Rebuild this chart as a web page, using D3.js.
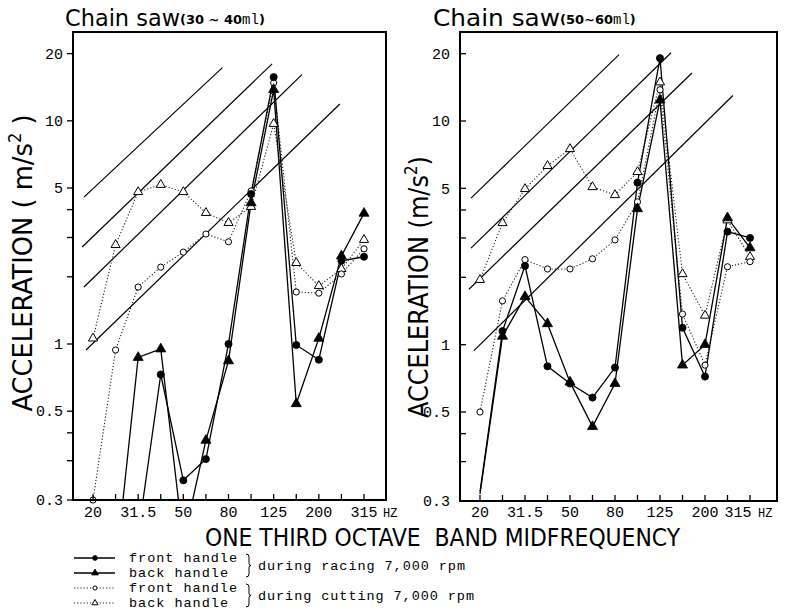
<!DOCTYPE html>
<html>
<head>
<meta charset="utf-8">
<script src="https://cdn.jsdelivr.net/npm/d3@7"></script>
<style>
  html, body { margin: 0; padding: 0; background: #fff; }
  svg { display: block; }
</style>
</head>
<body>
<script>
// One-third octave band centre frequencies (Hz)
const bands = ["20", "25", "31.5", "40", "50", "63", "80", "100", "125", "160", "200", "250", "315"];
const bandTickLabels = ["20", "31.5", "50", "80", "125", "200", "315"];

// Acceleration axis ticks (m/s²)
const yMajorTicks = [0.2, 0.5, 1, 5, 10, 20];
const yMajorLabels = ["0.3", "0.5", "1", "5", "10", "20"];
const yMinorTicks = [0.3, 0.4, 2, 3, 4];

// Chain saw 30~40 ml
const racingFrontSmall  = [null, null, 0.14, 0.73, 0.245, 0.305, 1.0, 4.7, 15.7, 0.99, 0.85, 2.36, 2.46];
const racingBackSmall   = [null, 0.098, 0.87, 0.95, 0.13, 0.37, 0.84, 4.29, 13.8, 0.54, 1.06, 2.48, 3.85];
const cuttingFrontSmall = [0.2, 0.94, 1.8, 2.21, 2.58, 3.11, 2.87, 4.85, 14.8, 1.71, 1.69, 2.06, 2.67];
const cuttingBackSmall  = [1.06, 2.78, 4.8, 5.17, 4.8, 3.87, 3.49, 4.12, 9.7, 2.31, 1.82, 2.17, 2.93];

// Chain saw 50~60 ml (racing traces start unmarked at the 20 Hz band)
const racingFrontLarge  = [0.22, 1.15, 2.25, 0.8, 0.67, 0.58, 0.79, 5.3, 19.1, 1.19, 0.72, 3.2, 3.0];
const racingBackLarge   = [0.215, 1.09, 1.64, 1.24, 0.68, 0.43, 0.67, 4.05, 12.4, 0.81, 1.0, 3.69, 2.71];
const cuttingFrontLarge = [0.5, 1.57, 2.4, 2.18, 2.18, 2.42, 2.94, 4.35, 13.8, 1.37, 0.81, 2.23, 2.35];
const cuttingBackLarge  = [1.95, 3.5, 4.97, 6.3, 7.5, 5.07, 4.67, 5.92, 14.9, 2.07, 1.35, 3.6, 2.47];

// Constant-velocity guide lines: [band index, acceleration] at each end
const guideLinesSmall = [
  [[-0.4, 4.55], [5.73, 17.3]],
  [[-0.48, 2.72], [7.93, 18.0]],
  [[-0.4, 1.8], [9.25, 16.1]],
  [[-0.31, 0.94], [10.93, 11.9]]
];
const guideLinesLarge = [
  [[-0.4, 4.52], [6.18, 19.8]],
  [[-0.4, 2.70], [8.49, 20.2]],
  [[-0.49, 1.77], [9.42, 16.4]],
  [[-0.27, 0.94], [11.24, 13.0]]
];

const legendRows = [
  { label: "front handle", kind: "racingFront" },
  { label: "back handle", kind: "racingBack" },
  { label: "front handle", kind: "cuttingFront" },
  { label: "back handle", kind: "cuttingBack" }
];
const legendGroups = ["during racing 7,000 rpm", "during cutting 7,000 rpm"];

// ---------------------------------------------------------------------------
const W = 790, H = 611;
const svg = d3.select("body").append("svg").attr("width", W).attr("height", H);
svg.append("rect").attr("width", W).attr("height", H).attr("fill", "#fff");

const mono = "'Liberation Mono', 'DejaVu Sans Mono', monospace";
const sans = "'Liberation Sans Narrow', 'DejaVu Sans Condensed', 'Liberation Sans', sans-serif";
const round = "'DejaVu Sans', 'Noto Sans', sans-serif";

const styles = {
  racingFront:  { dash: null, shape: d3.symbolCircle, filled: true },
  racingBack:   { dash: null, shape: d3.symbolTriangle, filled: true },
  cuttingFront: { dash: "1.2,2", shape: d3.symbolCircle, filled: false },
  cuttingBack:  { dash: "1.2,2", shape: d3.symbolTriangle, filled: false }
};

function marker(g, kind, x, y, scale = 1) {
  const s = styles[kind];
  const size = (s.shape === d3.symbolCircle ? (s.filled ? 40 : 30) : (s.filled ? 44 : 36)) * scale;
  g.append("path")
    .attr("d", d3.symbol().type(s.shape).size(size)())
    .attr("transform", `translate(${x},${y})`)
    .attr("fill", s.filled ? "#000" : "#fff")
    .attr("stroke", "#000")
    .attr("stroke-width", s.filled ? 0.8 : 1.0);
}

const panels = [
  {
    id: "small", title: "Chain saw", size: ["(30 ~ 40", "ml", ")"], titleX: 65, titleW: 115,
    frame: { x0: 73, x1: 386, y0: 32, y1: 500 }, band0: 93, band12: 364,
    tickOut: true, yLabelRight: 63, lastLabelShift: 0, unmarked: {},
    yTitle: "ACCELERATION ( m/s", yTitleEnd: " )", yTitleX: 32, yTitleLen: 297, yTitleMid: 263,
    hzX: 383,
    series: { racingFront: racingFrontSmall, racingBack: racingBackSmall,
              cuttingFront: cuttingFrontSmall, cuttingBack: cuttingBackSmall },
    guides: guideLinesSmall
  },
  {
    id: "large", title: "Chain saw", size: ["(50~60", "ml", ")"], titleX: 433, titleW: 127,
    frame: { x0: 460, x1: 777, y0: 32, y1: 501 }, band0: 480, band12: 750,
    tickOut: false, yLabelRight: 450, lastLabelShift: -12,
    unmarked: { racingFront: [0], racingBack: [0] },
    yTitle: "ACCELERATION (m/s", yTitleEnd: ")", yTitleX: 428, yTitleLen: 262, yTitleMid: 287,
    hzX: 758,
    series: { racingFront: racingFrontLarge, racingBack: racingBackLarge,
              cuttingFront: cuttingFrontLarge, cuttingBack: cuttingBackLarge },
    guides: guideLinesLarge
  }
];

panels.forEach(p => {
  const f = p.frame;
  const x = d3.scaleLinear().domain([0, 12]).range([p.band0, p.band12]);
  const y = d3.scaleLog().domain([0.2, 25]).range([f.y1, f.y0]);
  const g = svg.append("g");

  // title
  const t = g.append("text").attr("x", p.titleX).attr("y", 26).attr("fill", "#000");
  t.append("tspan").attr("font-family", round).attr("font-size", 23)
    .attr("textLength", p.titleW).attr("lengthAdjust", "spacingAndGlyphs").text(p.title);
  t.append("tspan").attr("font-family", "'DejaVu Sans', sans-serif").attr("font-weight", "bold")
    .attr("font-size", 13).attr("dy", -2).text(p.size[0]);
  t.append("tspan").attr("font-family", mono).attr("font-size", 14).text(p.size[1]);
  t.append("tspan").attr("font-family", "'DejaVu Sans', sans-serif").attr("font-weight", "bold")
    .attr("font-size", 13).text(p.size[2]);

  // clip region
  const clipId = "clip-" + p.id;
  svg.append("clipPath").attr("id", clipId).append("rect")
    .attr("x", f.x0).attr("y", f.y0).attr("width", f.x1 - f.x0).attr("height", f.y1 - f.y0);
  const plot = g.append("g").attr("clip-path", `url(#${clipId})`);

  // constant-velocity guide lines
  p.guides.forEach(seg => {
    plot.append("line")
      .attr("x1", x(seg[0][0])).attr("y1", y(seg[0][1]))
      .attr("x2", x(seg[1][0])).attr("y2", y(seg[1][1]))
      .attr("stroke", "#000").attr("stroke-width", 1.2);
  });

  // series lines
  const line = d3.line()
    .defined(d => d.v != null)
    .x(d => x(d.i)).y(d => y(d.v));
  const order = ["cuttingBack", "cuttingFront", "racingBack", "racingFront"];
  order.forEach(kind => {
    const s = styles[kind];
    const pts = p.series[kind].map((v, i) => ({ i, v }));
    plot.append("path").datum(pts)
      .attr("d", line)
      .attr("fill", "none")
      .attr("stroke", s.dash ? "#222" : "#000")
      .attr("stroke-width", s.dash ? 1.1 : 1.3)
      .attr("stroke-dasharray", s.dash);
  });
  order.forEach(kind => {
    const skip = p.unmarked[kind] || [];
    p.series[kind].forEach((v, i) => {
      if (v == null || v < 0.2 || skip.includes(i)) return;
      marker(g, kind, x(i), y(v));
    });
  });

  // frame
  g.append("rect").attr("x", f.x0).attr("y", f.y0)
    .attr("width", f.x1 - f.x0).attr("height", f.y1 - f.y0)
    .attr("fill", "none").attr("stroke", "#000").attr("stroke-width", 2);

  // y axis ticks and labels
  const tickLen = p.tickOut ? -6 : 6;
  yMajorTicks.concat(yMinorTicks).forEach(v => {
    g.append("line").attr("x1", f.x0).attr("x2", f.x0 + tickLen)
      .attr("y1", y(v)).attr("y2", y(v)).attr("stroke", "#000").attr("stroke-width", 1.3);
  });
  yMajorTicks.forEach((v, k) => {
    g.append("text").attr("x", p.yLabelRight).attr("y", y(v)).attr("dy", "0.35em")
      .attr("text-anchor", "end").attr("font-family", mono).attr("font-size", 15)
      .attr("fill", "#000").text(yMajorLabels[k]);
  });

  // x axis ticks and labels
  bands.forEach((b, i) => {
    g.append("line").attr("x1", x(i)).attr("x2", x(i))
      .attr("y1", f.y1).attr("y2", f.y1 - 6).attr("stroke", "#000").attr("stroke-width", 1.3);
    if (bandTickLabels.includes(b)) {
      const shift = i === bands.length - 1 ? p.lastLabelShift : 0;
      g.append("text").attr("x", x(i) + shift).attr("y", 517)
        .attr("text-anchor", "middle").attr("font-family", mono).attr("font-size", 15)
        .attr("fill", "#000").text(b);
    }
  });
  g.append("text").attr("x", p.hzX).attr("y", 517).attr("font-family", mono)
    .attr("font-size", 12).attr("fill", "#000").text("HZ");

  // y axis title
  const yt = g.append("text")
    .attr("transform", `translate(${p.yTitleX},${p.yTitleMid}) rotate(-90)`)
    .attr("text-anchor", "middle").attr("font-family", sans).attr("font-size", 27)
    .attr("fill", "#000")
    .attr("textLength", p.yTitleLen).attr("lengthAdjust", "spacingAndGlyphs");
  yt.append("tspan").text(p.yTitle);
  yt.append("tspan").attr("font-size", 17).attr("dy", -11).text("2");
  yt.append("tspan").attr("dy", 11).text(p.yTitleEnd);
});

// x axis title
svg.append("text").attr("x", 205).attr("y", 546)
  .attr("font-family", sans).attr("font-size", 25).attr("fill", "#000")
  .attr("textLength", 475).attr("lengthAdjust", "spacingAndGlyphs")
  .attr("xml:space", "preserve")
  .text("ONE THIRD OCTAVE  BAND MIDFREQUENCY");

// legend
const legend = svg.append("g");
const rowY = [558, 573, 588, 603];
legendRows.forEach((r, k) => {
  const s = styles[r.kind];
  legend.append("line").attr("x1", 74).attr("x2", 115).attr("y1", rowY[k]).attr("y2", rowY[k])
    .attr("stroke", s.dash ? "#222" : "#000").attr("stroke-width", s.dash ? 1 : 1.4)
    .attr("stroke-dasharray", s.dash);
  marker(legend, r.kind, 95, rowY[k], 0.45);
  legend.append("text").attr("x", 129).attr("y", rowY[k] + 4)
    .attr("font-family", mono).attr("font-size", 13.5).attr("fill", "#000")
    .attr("textLength", r.label.length * 9).attr("lengthAdjust", "spacing")
    .text(r.label);
});
legendGroups.forEach((label, k) => {
  const y0 = rowY[k * 2] - 4, y1 = rowY[k * 2 + 1] + 4, ym = (y0 + y1) / 2;
  legend.append("path")
    .attr("d", `M246,${y0} Q249,${y0} 249,${y0 + 3} L249,${ym - 2} Q249,${ym} 251,${ym} Q249,${ym} 249,${ym + 2} L249,${y1 - 3} Q249,${y1} 246,${y1}`)
    .attr("fill", "none").attr("stroke", "#000").attr("stroke-width", 1);
  legend.append("text").attr("x", 258).attr("y", ym + 4)
    .attr("font-family", mono).attr("font-size", 13.5).attr("fill", "#000")
    .attr("textLength", label.length * 9).attr("lengthAdjust", "spacing")
    .text(label);
});
</script>
</body>
</html>
